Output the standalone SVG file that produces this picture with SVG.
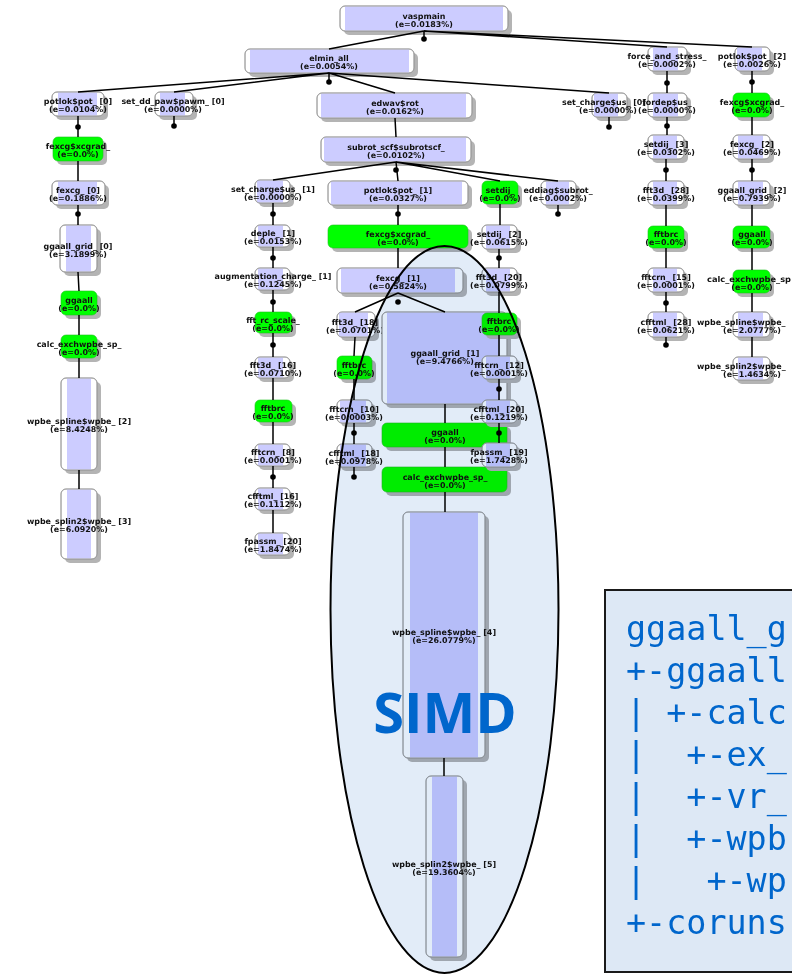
<svg xmlns="http://www.w3.org/2000/svg" width="792" height="974" viewBox="0 0 792 974">
<style>
.sh{fill:#b4b4b4}
.bx{fill:#fff;stroke:#9a9a9a;stroke-width:0.8}
.lv{fill:#ccccff}
.ol{fill:none;stroke:#9a9a9a;stroke-width:0.8}
.gn{fill:#00ff00;stroke:#20c020;stroke-width:0.6}
.t{font-family:"DejaVu Sans",sans-serif;font-size:7.95px;font-weight:bold;fill:#111;text-anchor:middle}
.ts{font-family:"DejaVu Sans",sans-serif;font-size:7.95px;font-weight:bold;fill:#111;text-anchor:start}
.e{stroke:#000;stroke-width:1.5;fill:none}
.d{fill:#000}
.code{font-family:"DejaVu Sans Mono","Liberation Mono",monospace;font-size:33.4px;fill:#0066cc;white-space:pre}
</style>
<rect width="792" height="974" fill="#fff"/>
<g id="nodes">
<g id="n1"><rect class="sh" x="344" y="10" width="168" height="25" rx="5"/><rect class="bx" x="340" y="6" width="168" height="25" rx="5"/><rect class="lv" x="345" y="6.5" width="158" height="24"/><rect class="ol" x="340" y="6" width="168" height="25" rx="5"/><text class="t" x="424" y="18.5">vaspmain</text><text class="t" x="424" y="26.5">(e=0.0183%)</text></g>
<g id="n2"><rect class="sh" x="249" y="53" width="169" height="24" rx="5"/><rect class="bx" x="245" y="49" width="169" height="24" rx="5"/><rect class="lv" x="250" y="49.5" width="159" height="23"/><rect class="ol" x="245" y="49" width="169" height="24" rx="5"/><text class="t" x="329" y="61">elmin_all</text><text class="t" x="329" y="69">(e=0.0054%)</text></g>
<g id="n3"><rect class="sh" x="652" y="51" width="39" height="24" rx="5"/><rect class="bx" x="648" y="47" width="39" height="24" rx="5"/><rect class="lv" x="653" y="47.5" width="25" height="23"/><rect class="ol" x="648" y="47" width="39" height="24" rx="5"/><text class="t" x="667" y="59">force_and_stress_</text><text class="t" x="667" y="67">(e=0.0002%)</text></g>
<g id="n4"><rect class="sh" x="739" y="51" width="35" height="24" rx="5"/><rect class="bx" x="735" y="47" width="35" height="24" rx="5"/><rect class="lv" x="737" y="47.5" width="25" height="23"/><rect class="ol" x="735" y="47" width="35" height="24" rx="5"/><text class="t" x="752" y="59">potlok$pot_ [2]</text><text class="t" x="752" y="67">(e=0.0026%)</text></g>
<g id="n5"><rect class="sh" x="56" y="96" width="52" height="24" rx="5"/><rect class="bx" x="52" y="92" width="52" height="24" rx="5"/><rect class="lv" x="58" y="92.5" width="39" height="23"/><rect class="ol" x="52" y="92" width="52" height="24" rx="5"/><text class="t" x="78" y="104">potlok$pot_ [0]</text><text class="t" x="78" y="112">(e=0.0104%)</text></g>
<g id="n6"><rect class="sh" x="159" y="96" width="38" height="24" rx="5"/><rect class="bx" x="155" y="92" width="38" height="24" rx="5"/><rect class="lv" x="160" y="92.5" width="25" height="23"/><rect class="ol" x="155" y="92" width="38" height="24" rx="5"/><text class="t" x="173" y="104">set_dd_paw$pawm_ [0]</text><text class="t" x="173" y="112">(e=0.0000%)</text></g>
<g id="n7"><rect class="sh" x="321" y="97" width="155" height="25" rx="5"/><rect class="bx" x="317" y="93" width="155" height="25" rx="5"/><rect class="lv" x="321" y="93.5" width="145" height="24"/><rect class="ol" x="317" y="93" width="155" height="25" rx="5"/><text class="t" x="395" y="105.5">edwav$rot</text><text class="t" x="395" y="113.5">(e=0.0162%)</text></g>
<g id="n8"><rect class="sh" x="596" y="97" width="35" height="24" rx="5"/><rect class="bx" x="592" y="93" width="35" height="24" rx="5"/><rect class="lv" x="594" y="93.5" width="24" height="23"/><rect class="ol" x="592" y="93" width="35" height="24" rx="5"/><text class="t" x="604" y="105">set_charge$us_ [0]</text><text class="t" x="608" y="113">(e=0.0000%)</text></g>
<g id="n9"><rect class="sh" x="652" y="97" width="39" height="24" rx="5"/><rect class="bx" x="648" y="93" width="39" height="24" rx="5"/><rect class="lv" x="653" y="93.5" width="25" height="23"/><rect class="ol" x="648" y="93" width="39" height="24" rx="5"/><text class="t" x="667" y="105">fordep$us_</text><text class="t" x="667" y="113">(e=0.0000%)</text></g>
<g id="n10"><rect class="sh" x="737" y="97" width="37" height="24" rx="5"/><rect class="gn" x="733" y="93" width="37" height="24" rx="5"/><text class="t" x="752" y="105">fexcg$xcgrad_</text><text class="t" x="752" y="113">(e=0.0%)</text></g>
<g id="n11"><rect class="sh" x="57" y="141" width="50" height="24" rx="5"/><rect class="gn" x="53" y="137" width="50" height="24" rx="5"/><text class="t" x="78" y="149">fexcg$xcgrad_</text><text class="t" x="78" y="157">(e=0.0%)</text></g>
<g id="n12"><rect class="sh" x="325" y="141" width="150" height="25" rx="5"/><rect class="bx" x="321" y="137" width="150" height="25" rx="5"/><rect class="lv" x="324" y="137.5" width="142" height="24"/><rect class="ol" x="321" y="137" width="150" height="25" rx="5"/><text class="t" x="396" y="149.5">subrot_scf$subrotscf_</text><text class="t" x="396" y="157.5">(e=0.0102%)</text></g>
<g id="n13"><rect class="sh" x="652" y="139" width="36" height="24" rx="5"/><rect class="bx" x="648" y="135" width="36" height="24" rx="5"/><rect class="lv" x="653" y="135.5" width="24" height="23"/><rect class="ol" x="648" y="135" width="36" height="24" rx="5"/><text class="t" x="666" y="147">setdij_ [3]</text><text class="t" x="666" y="155">(e=0.0302%)</text></g>
<g id="n14"><rect class="sh" x="737" y="139" width="37" height="24" rx="5"/><rect class="bx" x="733" y="135" width="37" height="24" rx="5"/><rect class="lv" x="738" y="135.5" width="25" height="23"/><rect class="ol" x="733" y="135" width="37" height="24" rx="5"/><text class="t" x="752" y="147">fexcg_ [2]</text><text class="t" x="752" y="155">(e=0.0469%)</text></g>
<g id="n15"><rect class="sh" x="56" y="185" width="53" height="24" rx="5"/><rect class="bx" x="52" y="181" width="53" height="24" rx="5"/><rect class="lv" x="58" y="181.5" width="39" height="23"/><rect class="ol" x="52" y="181" width="53" height="24" rx="5"/><text class="t" x="78" y="193">fexcg_ [0]</text><text class="t" x="78" y="201">(e=0.1886%)</text></g>
<g id="n16"><rect class="sh" x="259" y="184" width="35" height="23" rx="5"/><rect class="bx" x="255" y="180" width="35" height="23" rx="5"/><rect class="lv" x="257" y="180.5" width="26" height="22"/><rect class="ol" x="255" y="180" width="35" height="23" rx="5"/><text class="t" x="273" y="191.5">set_charge$us_ [1]</text><text class="t" x="273" y="199.5">(e=0.0000%)</text></g>
<g id="n17"><rect class="sh" x="332" y="185" width="140" height="24" rx="5"/><rect class="bx" x="328" y="181" width="140" height="24" rx="5"/><rect class="lv" x="331" y="181.5" width="131" height="23"/><rect class="ol" x="328" y="181" width="140" height="24" rx="5"/><text class="t" x="398" y="193">potlok$pot_ [1]</text><text class="t" x="398" y="201">(e=0.0327%)</text></g>
<g id="n18"><rect class="sh" x="486" y="185" width="36" height="23" rx="5"/><rect class="gn" x="482" y="181" width="36" height="23" rx="5"/><text class="t" x="500" y="192.5">setdij_</text><text class="t" x="500" y="200.5">(e=0.0%)</text></g>
<g id="n19"><rect class="sh" x="545" y="185" width="35" height="24" rx="5"/><rect class="bx" x="541" y="181" width="35" height="24" rx="5"/><rect class="lv" x="546" y="181.5" width="23" height="23"/><rect class="ol" x="541" y="181" width="35" height="24" rx="5"/><text class="t" x="558" y="193">eddiag$subrot_</text><text class="t" x="558" y="201">(e=0.0002%)</text></g>
<g id="n20"><rect class="sh" x="652" y="185" width="36" height="24" rx="5"/><rect class="bx" x="648" y="181" width="36" height="24" rx="5"/><rect class="lv" x="653" y="181.5" width="24" height="23"/><rect class="ol" x="648" y="181" width="36" height="24" rx="5"/><text class="t" x="666" y="193">fft3d_ [28]</text><text class="t" x="666" y="201">(e=0.0399%)</text></g>
<g id="n21"><rect class="sh" x="737" y="185" width="37" height="24" rx="5"/><rect class="bx" x="733" y="181" width="37" height="24" rx="5"/><rect class="lv" x="738" y="181.5" width="25" height="23"/><rect class="ol" x="733" y="181" width="37" height="24" rx="5"/><text class="t" x="752" y="193">ggaall_grid_ [2]</text><text class="t" x="752" y="201">(e=0.7939%)</text></g>
<g id="n22"><rect class="sh" x="64" y="229" width="37" height="47" rx="5"/><rect class="bx" x="60" y="225" width="37" height="47" rx="5"/><rect class="lv" x="66" y="225.5" width="25" height="46"/><rect class="ol" x="60" y="225" width="37" height="47" rx="5"/><text class="t" x="78" y="248.5">ggaall_grid_ [0]</text><text class="t" x="78" y="256.5">(e=3.1899%)</text></g>
<g id="n23"><rect class="sh" x="259" y="229" width="35" height="22" rx="5"/><rect class="bx" x="255" y="225" width="35" height="22" rx="5"/><rect class="lv" x="258" y="225.5" width="25" height="21"/><rect class="ol" x="255" y="225" width="35" height="22" rx="5"/><text class="t" x="273" y="236">deple_ [1]</text><text class="t" x="273" y="244">(e=0.0153%)</text></g>
<g id="n24"><rect class="sh" x="332" y="229" width="140" height="23" rx="5"/><rect class="gn" x="328" y="225" width="140" height="23" rx="5"/><text class="t" x="398" y="236.5">fexcg$xcgrad_</text><text class="t" x="398" y="244.5">(e=0.0%)</text></g>
<g id="n25"><rect class="sh" x="486" y="229" width="35" height="24" rx="5"/><rect class="bx" x="482" y="225" width="35" height="24" rx="5"/><rect class="lv" x="486" y="225.5" width="24" height="23"/><rect class="ol" x="482" y="225" width="35" height="24" rx="5"/><text class="t" x="499" y="237">setdij_ [2]</text><text class="t" x="499" y="245">(e=0.0615%)</text></g>
<g id="n26"><rect class="sh" x="652" y="230" width="36" height="22" rx="5"/><rect class="gn" x="648" y="226" width="36" height="22" rx="5"/><text class="t" x="666" y="237">fftbrc</text><text class="t" x="666" y="245">(e=0.0%)</text></g>
<g id="n27"><rect class="sh" x="737" y="230" width="37" height="22" rx="5"/><rect class="gn" x="733" y="226" width="37" height="22" rx="5"/><text class="t" x="752" y="237">ggaall</text><text class="t" x="752" y="245">(e=0.0%)</text></g>
<g id="n28"><rect class="sh" x="259" y="272" width="35" height="22" rx="5"/><rect class="bx" x="255" y="268" width="35" height="22" rx="5"/><rect class="lv" x="258" y="268.5" width="25" height="21"/><rect class="ol" x="255" y="268" width="35" height="22" rx="5"/><text class="t" x="273" y="279">augmentation_charge_ [1]</text><text class="t" x="273" y="287">(e=0.1245%)</text></g>
<g id="n29"><rect class="sh" x="341" y="272" width="126" height="25" rx="5"/><rect class="bx" x="337" y="268" width="126" height="25" rx="5"/><rect class="lv" x="341" y="268.5" width="114" height="24"/><rect class="ol" x="337" y="268" width="126" height="25" rx="5"/><text class="t" x="398" y="280.5">fexcg_ [1]</text><text class="t" x="398" y="288.5">(e=0.5824%)</text></g>
<g id="n30"><rect class="sh" x="486" y="272" width="35" height="24" rx="5"/><rect class="bx" x="482" y="268" width="35" height="24" rx="5"/><rect class="lv" x="486" y="268.5" width="24" height="23"/><rect class="ol" x="482" y="268" width="35" height="24" rx="5"/><text class="t" x="499" y="280">fft3d_ [20]</text><text class="t" x="499" y="288">(e=0.0799%)</text></g>
<g id="n31"><rect class="sh" x="652" y="272" width="36" height="24" rx="5"/><rect class="bx" x="648" y="268" width="36" height="24" rx="5"/><rect class="lv" x="653" y="268.5" width="24" height="23"/><rect class="ol" x="648" y="268" width="36" height="24" rx="5"/><text class="t" x="666" y="280">fftcrn_ [15]</text><text class="t" x="666" y="288">(e=0.0001%)</text></g>
<g id="n32"><rect class="sh" x="737" y="274" width="37" height="23" rx="5"/><rect class="gn" x="733" y="270" width="37" height="23" rx="5"/><text class="ts" x="707" y="281.5" textLength="84" lengthAdjust="spacingAndGlyphs">calc_exchwpbe_sp</text><text class="t" x="752" y="289.5">(e=0.0%)</text></g>
<g id="n33"><rect class="sh" x="65" y="295" width="36" height="24" rx="5"/><rect class="gn" x="61" y="291" width="36" height="24" rx="5"/><text class="t" x="79" y="303">ggaall</text><text class="t" x="79" y="311">(e=0.0%)</text></g>
<g id="n34"><rect class="sh" x="259" y="316" width="37" height="21" rx="5"/><rect class="gn" x="255" y="312" width="37" height="21" rx="5"/><text class="t" x="273" y="322.5">fft_rc_scale_</text><text class="t" x="273" y="330.5">(e=0.0%)</text></g>
<g id="n35"><rect class="sh" x="341" y="316" width="38" height="25" rx="5"/><rect class="bx" x="337" y="312" width="38" height="25" rx="5"/><rect class="lv" x="339" y="312.5" width="29" height="24"/><rect class="ol" x="337" y="312" width="38" height="25" rx="5"/><text class="t" x="355" y="324.5">fft3d_ [18]</text><text class="t" x="355" y="332.5">(e=0.0701%)</text></g>
<g id="n36"><rect class="sh" x="386" y="316" width="125" height="92" rx="5"/><rect class="bx" x="382" y="312" width="125" height="92" rx="5"/><rect class="lv" x="387" y="312.5" width="113" height="91"/><rect class="ol" x="382" y="312" width="125" height="92" rx="5"/><text class="t" x="445" y="355.5">ggaall_grid_ [1]</text><text class="t" x="445" y="363.5">(e=9.4766%)</text></g>
<g id="n49"><rect class="sh" x="386" y="427" width="125" height="24" rx="5"/><rect class="gn" x="382" y="423" width="125" height="24" rx="5"/><text class="t" x="445" y="435">ggaall</text><text class="t" x="445" y="443">(e=0.0%)</text></g>
<g id="n53"><rect class="sh" x="386" y="471" width="125" height="25" rx="5"/><rect class="gn" x="382" y="467" width="125" height="25" rx="5"/><text class="t" x="445" y="479.5">calc_exchwpbe_sp_</text><text class="t" x="445" y="487.5">(e=0.0%)</text></g>
<g id="n37"><rect class="sh" x="486" y="317" width="35" height="22" rx="5"/><rect class="gn" x="482" y="313" width="35" height="22" rx="5"/><text class="t" x="499" y="324">fftbrc</text><text class="t" x="499" y="332">(e=0.0%)</text></g>
<g id="n38"><rect class="sh" x="652" y="316" width="36" height="25" rx="5"/><rect class="bx" x="648" y="312" width="36" height="25" rx="5"/><rect class="lv" x="653" y="312.5" width="24" height="24"/><rect class="ol" x="648" y="312" width="36" height="25" rx="5"/><text class="t" x="666" y="324.5">cfftml_ [28]</text><text class="t" x="666" y="332.5">(e=0.0621%)</text></g>
<g id="n39"><rect class="sh" x="737" y="316" width="37" height="25" rx="5"/><rect class="bx" x="733" y="312" width="37" height="25" rx="5"/><rect class="lv" x="738" y="312.5" width="25" height="24"/><rect class="ol" x="733" y="312" width="37" height="25" rx="5"/><text class="ts" x="697" y="324.5">wpbe_spline$wpbe_</text><text class="t" x="752" y="332.5">(e=2.0777%)</text></g>
<g id="n40"><rect class="sh" x="65" y="339" width="36" height="23" rx="5"/><rect class="gn" x="61" y="335" width="36" height="23" rx="5"/><text class="t" x="79" y="346.5">calc_exchwpbe_sp_</text><text class="t" x="79" y="354.5">(e=0.0%)</text></g>
<g id="n41"><rect class="sh" x="259" y="361" width="35" height="21" rx="5"/><rect class="bx" x="255" y="357" width="35" height="21" rx="5"/><rect class="lv" x="258" y="357.5" width="25" height="20"/><rect class="ol" x="255" y="357" width="35" height="21" rx="5"/><text class="t" x="273" y="367.5">fft3d_ [16]</text><text class="t" x="273" y="375.5">(e=0.0710%)</text></g>
<g id="n42"><rect class="sh" x="341" y="360" width="35" height="23" rx="5"/><rect class="gn" x="337" y="356" width="35" height="23" rx="5"/><text class="t" x="354" y="367.5">fftbrc</text><text class="t" x="354" y="375.5">(e=0.0%)</text></g>
<g id="n43"><rect class="sh" x="486" y="360" width="35" height="23" rx="5"/><rect class="bx" x="482" y="356" width="35" height="23" rx="5"/><rect class="lv" x="486" y="356.5" width="24" height="22"/><rect class="ol" x="482" y="356" width="35" height="23" rx="5"/><text class="t" x="499" y="367.5">fftcrn_ [12]</text><text class="t" x="499" y="375.5">(e=0.0001%)</text></g>
<g id="n44"><rect class="sh" x="737" y="361" width="37" height="23" rx="5"/><rect class="bx" x="733" y="357" width="37" height="23" rx="5"/><rect class="lv" x="738" y="357.5" width="25" height="22"/><rect class="ol" x="733" y="357" width="37" height="23" rx="5"/><text class="ts" x="697" y="368.5">wpbe_splin2$wpbe_</text><text class="t" x="752" y="376.5">(e=1.4634%)</text></g>
<g id="n45"><rect class="sh" x="65" y="382" width="36" height="92" rx="5"/><rect class="bx" x="61" y="378" width="36" height="92" rx="5"/><rect class="lv" x="67" y="378.5" width="24" height="91"/><rect class="ol" x="61" y="378" width="36" height="92" rx="5"/><text class="t" x="79" y="424">wpbe_spline$wpbe_ [2]</text><text class="t" x="79" y="432">(e=8.4248%)</text></g>
<g id="n46"><rect class="sh" x="259" y="404" width="37" height="22" rx="5"/><rect class="gn" x="255" y="400" width="37" height="22" rx="5"/><text class="t" x="273" y="411">fftbrc</text><text class="t" x="273" y="419">(e=0.0%)</text></g>
<g id="n47"><rect class="sh" x="341" y="404" width="35" height="23" rx="5"/><rect class="bx" x="337" y="400" width="35" height="23" rx="5"/><rect class="lv" x="340" y="400.5" width="26" height="22"/><rect class="ol" x="337" y="400" width="35" height="23" rx="5"/><text class="t" x="354" y="411.5">fftcrn_ [10]</text><text class="t" x="354" y="419.5">(e=0.0003%)</text></g>
<g id="n48"><rect class="sh" x="486" y="404" width="35" height="23" rx="5"/><rect class="bx" x="482" y="400" width="35" height="23" rx="5"/><rect class="lv" x="486" y="400.5" width="24" height="22"/><rect class="ol" x="482" y="400" width="35" height="23" rx="5"/><text class="t" x="499" y="411.5">cfftml_ [20]</text><text class="t" x="499" y="419.5">(e=0.1219%)</text></g>
<g id="n50"><rect class="sh" x="259" y="448" width="35" height="22" rx="5"/><rect class="bx" x="255" y="444" width="35" height="22" rx="5"/><rect class="lv" x="258" y="444.5" width="25" height="21"/><rect class="ol" x="255" y="444" width="35" height="22" rx="5"/><text class="t" x="273" y="455">fftcrn_ [8]</text><text class="t" x="273" y="463">(e=0.0001%)</text></g>
<g id="n51"><rect class="sh" x="341" y="448" width="35" height="23" rx="5"/><rect class="bx" x="337" y="444" width="35" height="23" rx="5"/><rect class="lv" x="340" y="444.5" width="26" height="22"/><rect class="ol" x="337" y="444" width="35" height="23" rx="5"/><text class="t" x="354" y="455.5">cfftml_ [18]</text><text class="t" x="354" y="463.5">(e=0.0978%)</text></g>
<g id="n52"><rect class="sh" x="486" y="447" width="35" height="24" rx="5"/><rect class="bx" x="482" y="443" width="35" height="24" rx="5"/><rect class="lv" x="486" y="443.5" width="24" height="23"/><rect class="ol" x="482" y="443" width="35" height="24" rx="5"/><text class="t" x="499" y="455">fpassm_ [19]</text><text class="t" x="499" y="463">(e=1.7428%)</text></g>
<g id="n54"><rect class="sh" x="65" y="493" width="36" height="70" rx="5"/><rect class="bx" x="61" y="489" width="36" height="70" rx="5"/><rect class="lv" x="67" y="489.5" width="24" height="69"/><rect class="ol" x="61" y="489" width="36" height="70" rx="5"/><text class="t" x="79" y="524">wpbe_splin2$wpbe_ [3]</text><text class="t" x="79" y="532">(e=6.0920%)</text></g>
<g id="n55"><rect class="sh" x="259" y="492" width="35" height="22" rx="5"/><rect class="bx" x="255" y="488" width="35" height="22" rx="5"/><rect class="lv" x="258" y="488.5" width="25" height="21"/><rect class="ol" x="255" y="488" width="35" height="22" rx="5"/><text class="t" x="273" y="499">cfftml_ [16]</text><text class="t" x="273" y="507">(e=0.1112%)</text></g>
<g id="n56"><rect class="sh" x="259" y="537" width="35" height="22" rx="5"/><rect class="bx" x="255" y="533" width="35" height="22" rx="5"/><rect class="lv" x="258" y="533.5" width="25" height="21"/><rect class="ol" x="255" y="533" width="35" height="22" rx="5"/><text class="t" x="273" y="544">fpassm_ [20]</text><text class="t" x="273" y="552">(e=1.8474%)</text></g>
<g id="n57"><rect class="sh" x="407" y="516" width="82" height="246" rx="5"/><rect class="bx" x="403" y="512" width="82" height="246" rx="5"/><rect class="lv" x="410" y="512.5" width="68" height="245"/><rect class="ol" x="403" y="512" width="82" height="246" rx="5"/><text class="t" x="444" y="634.5">wpbe_spline$wpbe_ [4]</text><text class="t" x="444" y="642.5">(e=26.0779%)</text></g>
<g id="n58"><rect class="sh" x="430" y="780" width="37" height="181" rx="5"/><rect class="bx" x="426" y="776" width="37" height="181" rx="5"/><rect class="lv" x="432" y="776.5" width="25" height="180"/><rect class="ol" x="426" y="776" width="37" height="181" rx="5"/><text class="t" x="444" y="866.5">wpbe_splin2$wpbe_ [5]</text><text class="t" x="444" y="874.5">(e=19.3604%)</text></g>
</g>
<g id="connectors">
<path class="e" d="M424,31L329,49M424,31L667,47M424,31L752,47M424,31L424,39M329,73L78,92M329,73L174,92M329,73L395,93M329,73L609,93M329,73L329,82M667,71L667,93M752,71L752,93M78,116L78,137M174,116L174,126M395,118L396,137M609,117L609,127M667,117L667,135M752,117L752,135M78,161L78,181M396,162L273,180M396,162L398,181M396,162L500,181M396,162L558,181M666,159L666,181M752,159L752,181M78,205L78,225M273,203L273,225M398,205L398,225M500,204L500,225M558,205L558,214M666,205L666,226M752,205L752,226M78,272L79,291M273,247L273,268M398,248L398,268M499,249L499,268M666,248L666,268M752,248L752,270M79,315L79,335M273,290L273,312M398,293L355,312M398,293L445,312M499,292L499,313M666,292L666,312M752,293L752,312M79,358L79,378M273,333L273,357M355,337L354,356M445,404L445,423M499,335L499,356M666,337L666,345M752,337L752,357M79,470L79,489M273,378L273,400M354,379L354,400M499,379L499,400M273,422L273,444M354,423L354,444M499,423L499,443M445,447L445,467M273,466L273,488M354,467L354,477M445,492L445,512M273,510L273,533M444,758L444,776"/>
<g class="d">
<circle cx="424" cy="39" r="2.8"/><circle cx="329" cy="82" r="2.8"/><circle cx="667" cy="83" r="2.8"/><circle cx="752" cy="82" r="2.8"/><circle cx="78" cy="127" r="2.8"/><circle cx="174" cy="126" r="2.8"/><circle cx="609" cy="127" r="2.8"/><circle cx="667" cy="126" r="2.8"/><circle cx="396" cy="170" r="2.8"/><circle cx="666" cy="170" r="2.8"/><circle cx="752" cy="170" r="2.8"/><circle cx="78" cy="214" r="2.8"/><circle cx="273" cy="214" r="2.8"/><circle cx="398" cy="214" r="2.8"/><circle cx="558" cy="214" r="2.8"/><circle cx="273" cy="258" r="2.8"/><circle cx="499" cy="258" r="2.8"/><circle cx="273" cy="302" r="2.8"/><circle cx="398" cy="302" r="2.8"/><circle cx="666" cy="303" r="2.8"/><circle cx="273" cy="345" r="2.8"/><circle cx="666" cy="345" r="2.8"/><circle cx="499" cy="389" r="2.8"/><circle cx="354" cy="433" r="2.8"/><circle cx="499" cy="433" r="2.8"/><circle cx="273" cy="477" r="2.8"/><circle cx="354" cy="477" r="2.8"/>
</g>
</g>
<g id="simd">
<ellipse cx="444.5" cy="609.5" rx="114" ry="363.5" fill="#e2ecf8" style="mix-blend-mode:multiply"/>
<ellipse cx="444.5" cy="609.5" rx="114" ry="363.5" fill="none" stroke="#000" stroke-width="2"/>
<text x="445" y="733" font-family="'Open Sans','Liberation Sans',sans-serif" font-size="56" font-weight="bold" fill="#0066cc" text-anchor="middle">SIMD</text>
</g>
<g id="codebox">
<rect x="605" y="590" width="200" height="382" fill="#dde8f5" stroke="#1a1a1a" stroke-width="2"/>
<text class="code" x="626" y="639.5">ggaall_g</text>
<text class="code" x="626" y="681.5">+-ggaall</text>
<text class="code" x="626" y="723.5">| +-calc</text>
<text class="code" x="626" y="765.5">|  +-ex_</text>
<text class="code" x="626" y="807.5">|  +-vr_</text>
<text class="code" x="626" y="849.5">|  +-wpb</text>
<text class="code" x="626" y="891.5">|   +-wp</text>
<text class="code" x="626" y="933.5">+-coruns</text>
</g>
</svg>
